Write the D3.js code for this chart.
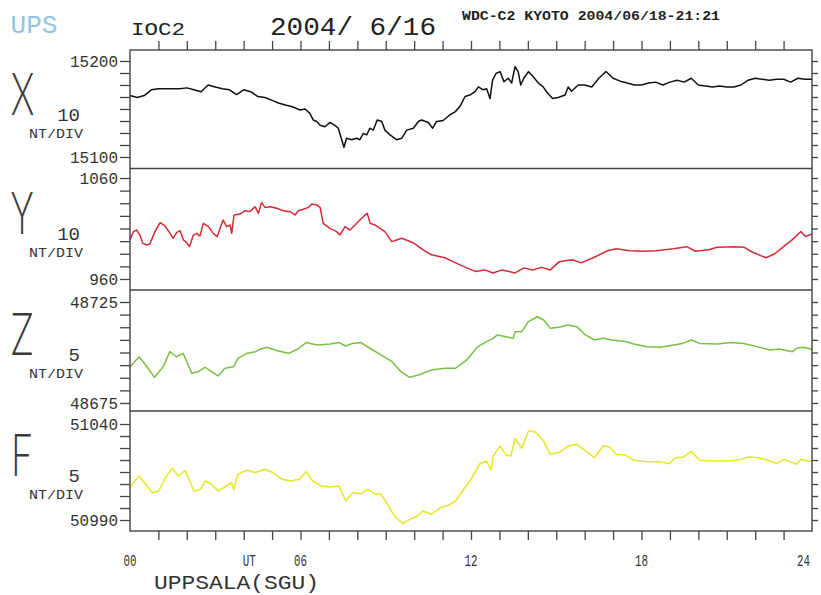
<!DOCTYPE html>
<html>
<head>
  <script src="https://d3js.org/d3.v7.min.js"></script>
  <title>UPS 2004/06/16</title>
  <style>
  body { margin: 0; background: #fff; }
  svg text { font-family: "Liberation Mono", "DejaVu Sans Mono", monospace; fill: #333; }
  </style>
</head>
<body>
<svg id="chart" width="821" height="595"></svg>
<script>
// ---- data (hour UT, nT) ----
var xHours = [0,0.25,0.5,0.75,1,1.25,1.5,1.75,2,2.25,2.5,2.75,3,3.25,3.5,3.75,4,4.25,4.5,4.75,5,5.25,5.5,5.75,
  5.98,6.16,6.33,6.45,6.57,6.69,6.86,7.04,7.21,7.33,7.45,7.53,7.62,7.80,7.98,8.09,8.21,8.33,8.44,8.56,8.70,8.86,8.97,
  9.15,9.38,9.56,9.74,9.97,10.15,10.26,10.50,10.65,10.79,11.02,11.26,11.44,11.61,11.79,11.96,12.14,12.26,12.43,12.55,
  12.67,12.76,12.88,13.02,13.16,13.31,13.43,13.55,13.66,13.75,13.86,14.02,14.19,14.37,14.54,14.66,14.87,15.07,15.31,
  15.42,15.54,15.77,
  16,16.25,16.5,16.75,17,17.25,17.5,17.75,18,18.25,18.5,18.75,19,19.25,19.5,19.75,20,20.25,20.5,20.75,21,21.25,21.5,
  21.75,22,22.25,22.5,22.75,23,23.25,23.5,23.75,24];
var xValues = [15164,15162,15164,15170,15171,15171,15171,15171,15172,15170,15168,15175,15173,15171,15170,15165,15170,15168,
  15163,15162,15159,15156,15154,15152,
  15149,15150,15145.5,15138.5,15137,15133,15131.5,15136,15133,15130,15118,15110,15119.5,15118,15119.5,15118,15124.5,15123,
  15130,15128,15138.5,15137,15128,15123,15118,15119.5,15128,15130,15137,15138.5,15136,15130,15137,15138,15144,15147,
  15152.5,15163,15164.5,15168,15173,15170,15171,15161,15180,15187,15189,15178.5,15182,15177,15194,15189,15175,15182,
  15189,15183.5,15177,15173,15168,15161,15162,15164.5,15173,15168.5,15175,
  15175,15173,15182,15189,15182,15179,15177,15175,15175,15177,15178,15175,15178,15180,15178,15182,15175,15174,15173,
  15174,15173,15173,15175,15180,15182,15181,15180,15181,15181,15178,15182,15181,15181];

var yHours = [0,0.12,0.23,0.35,0.45,0.59,0.70,0.88,1.06,1.23,1.41,1.52,1.64,1.76,1.88,1.99,2.09,2.23,2.35,2.46,2.58,
  2.76,2.93,3.07,3.19,3.28,3.40,3.52,3.58,3.66,3.87,4.05,4.22,4.40,4.52,4.63,4.75,4.93,5.16,5.40,5.63,5.81,5.92,6.10,
  6.28,6.39,6.57,6.69,6.80,7.04,7.27,7.39,7.57,7.74,7.92,8.09,8.21,8.35,8.45,8.62,8.80,8.97,9.21,9.38,9.56,9.79,
  9.99,10.30,10.61,11.08,11.46,11.85,12.16,12.47,12.78,13.09,13.55,13.86,14.17,14.48,14.79,15.10,15.57,15.87,16.34,
  16.80,17.11,17.58,18.04,18.51,19.13,19.59,19.90,20.36,20.67,21.29,21.60,21.91,22.38,22.69,23.00,23.31,23.61,23.77,24];
var yValues = [998.6,1006.9,1008.5,1003.5,995.3,993.7,994.6,1006.9,1015.8,1012.5,1005.2,1000.3,1005.9,1007.8,998.6,996,
  992,1003.5,1005.2,1002.6,1015.1,1011.8,1005.2,1001.9,1011.8,1018.4,1011.8,1013.5,1005.2,1023.4,1024.3,1027.6,1026.7,
  1031.6,1025,1035.6,1030.9,1031.6,1030,1027.6,1026.7,1023.4,1027.6,1029,1030.9,1034.2,1033.3,1030.9,1015.1,1010.2,
  1006.9,1003.5,1011.8,1008.5,1013.5,1018.4,1021.7,1025,1015.1,1013.5,1010.2,1006.9,997,998.6,1000.3,997.9,
  995.5,989,984,981,976,971,967.5,969,966,969,966,971,969,971.5,969,977,979,976,981.5,988,990,988,987.5,988,990,992,
  987.5,989,991.5,992,991.5,986.5,981,985,992,999,1007,1002,1004.5];

var zHours = [0,0.32,0.55,0.86,1.17,1.40,1.63,1.87,2.17,2.41,2.64,2.87,3.10,3.34,3.65,3.80,4.11,4.42,4.57,4.81,5.19,5.58,5.89,6.20,
  6.59,7.05,7.36,7.59,7.83,8.13,8.44,8.83,9.22,9.53,9.84,10.15,10.61,11.08,11.46,11.85,12.24,12.55,12.78,12.93,13.24,13.48,13.55,
  13.79,14.02,14.33,14.56,14.79,15.10,15.41,15.72,16.03,16.34,16.65,16.96,17.42,17.73,18.20,18.66,19.13,19.44,19.75,20.05,20.67,
  21.14,21.60,22.07,22.53,22.84,23.15,23.31,23.46,23.69,24];
var zValues = [48693.0,48697.9,48693.8,48687.7,48693.0,48700.4,48697.9,48699.6,48689.7,48690.5,48692.7,48690.5,48688.4,48692.2,
  48693.0,48697.1,48699.6,48700.4,48701.6,48702.6,48700.9,48699.6,48701.6,48704.9,48703.7,48704.2,48704.9,48703.2,48704.5,48704.9,
  48702.1,48698.8,48695.5,48690.5,48687.7,48688.9,48691.3,48692.2,48692.2,48696.3,48702.9,48705.4,48707.0,48708.7,48707.8,48707.0,
  48710.3,48710.3,48715.3,48717.7,48716.1,48712.0,48712.5,48713.6,48712.8,48708.7,48706.2,48707.0,48706.2,48705.4,48704.2,48702.9,
  48702.6,48703.7,48704.5,48706.2,48704.5,48704.2,48704.9,48704.5,48702.9,48701.2,48701.7,48700.9,48700.4,48702.1,48702.6,48701.6];

var fHours = [0,0.32,0.55,0.78,1.01,1.25,1.48,1.71,1.94,2.25,2.48,2.64,2.87,3.10,3.34,3.57,3.65,3.80,4.11,4.42,4.73,5.04,5.35,5.66,
  5.97,6.20,6.43,6.74,7.05,7.36,7.59,7.83,8.13,8.37,8.60,8.83,9.06,9.30,9.61,9.84,10.07,10.30,10.61,10.92,11.23,11.46,11.70,12.00,
  12.31,12.55,12.71,12.78,13.02,13.24,13.40,13.55,13.79,14.02,14.25,14.56,14.79,15.10,15.41,15.72,16.03,16.34,16.65,16.88,17.11,
  17.42,17.73,18.20,18.66,18.97,19.20,19.44,19.75,20.05,20.52,20.98,21.45,21.76,22.07,22.53,22.76,23.00,23.31,23.46,23.61,23.85,24];
var fValues = [51007.2,51012.9,51008.6,51004.2,51005.1,51012.0,51016.9,51012.9,51015.9,51005.1,51006.0,51010.3,51008.6,51005.1,
  51007.2,51009.4,51006.0,51013.8,51015.9,51014.7,51016.4,51014.7,51011.2,51010.3,51011.2,51015.2,51010.3,51007.7,51007.2,51007.7,
  50999.9,51004.2,51003.7,51006.0,51003.7,51003.4,50998.2,50992.1,50988.1,50990.3,50991.6,50994.7,50993.0,50996.4,50997.8,50999.9,
  51005.1,51011.2,51019.3,51020.7,51015.9,51023.3,51028.5,51023.9,51023.3,51032.5,51027.3,51036.4,51036.0,51031.1,51024.2,51025.1,
  51028.5,51029.4,51026.0,51022.5,51028.5,51028.0,51024.2,51023.9,51021.1,51020.4,51020.4,51019.3,51022.5,51022.5,51025.6,51021.1,
  51020.7,51020.7,51021.4,51022.8,51022.5,51020.7,51019.3,51021.6,51019.9,51019.0,51021.6,51020.7,51020.7];

var components = ["X", "Y", "Z", "F"];
var scaleLabels = ["10", "10", "5", "5"];
var rangeTop = [15200, 1060, 48725, 51040];
var rangeBottom = [15100, 960, 48675, 50990];
var hourTicks = d3.range(1, 24);
var timeLabels = ["00", "UT", "06", "12", "18", "24"];
var timeLabelHours = [0, 4.2, 6, 12, 18, 23.7];

// ---- layout ----
var left = 130, right = 812;
var panelEdges = [50, 168.5, 290, 411, 531];
var labelTopPx = [61, 178, 302, 424];
var labelBottomPx = [157, 279, 403, 520];
var colors = ["#111111", "#d42a3a", "#78bf44", "#e6e628"];
var frameColor = "#444";

var series = [
  {h: xHours, v: xValues},
  {h: yHours, v: yValues},
  {h: zHours, v: zValues},
  {h: fHours, v: fValues}
];

var svg = d3.select("#chart");
var xs = d3.scaleLinear().domain([0, 24]).range([left, right]);

// header texts
svg.append("text").attr("x", 10.5).attr("y", 33).attr("textLength", 47).attr("lengthAdjust", "spacingAndGlyphs")
  .style("font-size", "26px").style("fill", "#8ec5e3").text("UPS");
svg.append("text").attr("x", 131).attr("y", 35).attr("textLength", 54).attr("lengthAdjust", "spacingAndGlyphs")
  .style("font-size", "18px").style("fill", "#222").text("IOC2");
svg.append("text").attr("x", 270).attr("y", 35).attr("textLength", 166).attr("lengthAdjust", "spacingAndGlyphs")
  .style("font-size", "25px").style("fill", "#222").text("2004/ 6/16");
svg.append("text").attr("x", 462).attr("y", 20).attr("textLength", 258).attr("lengthAdjust", "spacingAndGlyphs")
  .style("font-size", "12px").style("font-weight", "bold").style("fill", "#222").text("WDC-C2 KYOTO 2004/06/18-21:21");

components.forEach(function(name, i) {
  var top = panelEdges[i];
  var ys = d3.scaleLinear().domain([rangeBottom[i], rangeTop[i]]).range([labelBottomPx[i], labelTopPx[i]]);
  var tickVals = d3.range(9).map(function(j) { return rangeBottom[i] + j * (rangeTop[i] - rangeBottom[i]) / 8; });

  // left axis with end labels
  var gl = svg.append("g").attr("transform", "translate(" + left + ",0)")
    .call(d3.axisLeft(ys).tickValues(tickVals).tickSize(10).tickPadding(2)
      .tickFormat(function(d) { return (d == rangeTop[i] || d == rangeBottom[i]) ? d : ""; }));
  gl.select(".domain").remove();
  gl.selectAll("line").attr("stroke", frameColor).attr("stroke-width", 1.3);
  gl.selectAll("text").style("font-size", "16px").style("font-family", "Liberation Mono").attr("fill", "#333");

  // right axis, ticks only
  var gr = svg.append("g").attr("transform", "translate(" + right + ",0)")
    .call(d3.axisRight(ys).tickValues(tickVals).tickSize(6).tickFormat(""));
  gr.select(".domain").remove();
  gr.selectAll("line").attr("stroke", frameColor).attr("stroke-width", 1.3);

  // component letter and scale
  svg.append("text").attr("transform", "translate(11," + (top + 65) + ") scale(0.62,1)")
    .style("font-family", "Lato").style("font-weight", "300").style("font-size", "60px").style("fill", "#3a3a3a")
    .text(name);
  svg.append("text").attr("x", 80).attr("y", top + 71).attr("text-anchor", "end")
    .style("font-size", "19px").text(scaleLabels[i]);
  svg.append("text").attr("x", 29).attr("y", top + 88).attr("textLength", 54).attr("lengthAdjust", "spacingAndGlyphs")
    .style("font-size", "12px").style("fill", "#333").text("NT/DIV");

  // trace
  var pts = d3.zip(series[i].h, series[i].v);
  svg.append("path").datum(pts)
    .attr("fill", "none").attr("stroke", colors[i]).attr("stroke-width", 1.5).attr("stroke-linejoin", "round")
    .attr("d", d3.line().x(function(d) { return xs(d[0]); }).y(function(d) { return ys(d[1]); }));
});

// frame and panel dividers
svg.append("rect").attr("x", left).attr("y", panelEdges[0]).attr("width", right - left)
  .attr("height", panelEdges[4] - panelEdges[0]).attr("fill", "none").attr("stroke", frameColor).attr("stroke-width", 1.4);
svg.selectAll(".divider").data(panelEdges.slice(1, 4)).enter().append("line")
  .attr("x1", left).attr("x2", right).attr("y1", function(d) { return d; }).attr("y2", function(d) { return d; })
  .attr("stroke", frameColor).attr("stroke-width", 1.4);

// hour ticks top and bottom
var gt = svg.append("g").attr("transform", "translate(0," + panelEdges[0] + ")")
  .call(d3.axisTop(xs).tickValues(hourTicks).tickSize(9).tickFormat(""));
gt.select(".domain").remove();
gt.selectAll("line").attr("stroke", frameColor).attr("stroke-width", 1.3);
var gb = svg.append("g").attr("transform", "translate(0," + panelEdges[4] + ")")
  .call(d3.axisBottom(xs).tickValues(hourTicks).tickSize(9).tickFormat(""));
gb.select(".domain").remove();
gb.selectAll("line").attr("stroke", frameColor).attr("stroke-width", 1.3);

// time labels
svg.selectAll(".tlabel").data(timeLabels).enter().append("text")
  .attr("class", "tlabel")
  .attr("x", function(d, i) { return xs(timeLabelHours[i]) - 6.5; })
  .attr("y", 566)
  .attr("textLength", 13).attr("lengthAdjust", "spacingAndGlyphs")
  .style("font-size", "16px").style("fill", "#333")
  .text(function(d) { return d; });

svg.append("text").attr("x", 154).attr("y", 589).attr("textLength", 165).attr("lengthAdjust", "spacingAndGlyphs")
  .style("font-size", "21px").style("fill", "#333").text("UPPSALA(SGU)");
</script>
</body>
</html>
